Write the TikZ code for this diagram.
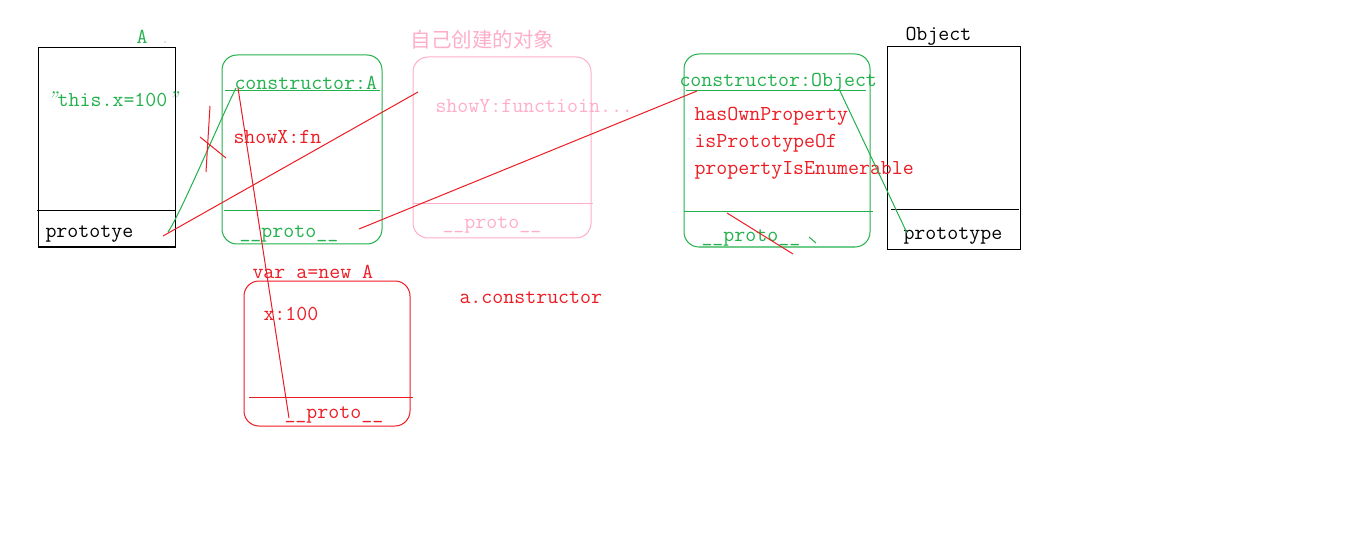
\documentclass[tikz,border=0pt]{standalone}
\usepackage{fontspec}
\newfontfamily\cjk{Noto Sans CJK SC}
\definecolor{pgreen}{RGB}{34,177,76}
\definecolor{pred}{RGB}{237,28,36}
\definecolor{ppink}{RGB}{255,174,201}
\newcommand{\qmk}{\makebox[0.525em][c]{\rmfamily\itshape ”}}
\begin{document}
\begin{tikzpicture}[x=1pt,y=-1pt,line width=1pt,
  txt/.style={font=\ttfamily\fontsize{21.3}{23}\selectfont, inner sep=0pt, anchor=base west},
  sqbox/.style={draw=black, inner sep=0pt, outer sep=0pt},
  rbox/.style={draw, rounded corners=15pt, inner sep=0pt, outer sep=0pt},
  link/.style={line width=1pt}]
\useasboundingbox (0,0) rectangle (1360,540);
\fill[white] (0,0) rectangle (1360,540);
% boxes
\node[sqbox, minimum width=137pt, minimum height=199pt] (boxA) at (106.5,147.5) {};
\node[rbox, draw=pgreen, minimum width=160pt, minimum height=189pt] (protoA) at (302,149.5) {};
\node[rbox, draw=ppink, minimum width=178pt, minimum height=181pt] (own) at (502,147.5) {};
\node[rbox, draw=pgreen, minimum width=186pt, minimum height=193pt] (protoObj) at (777,150.5) {};
\node[sqbox, minimum width=133pt, minimum height=202pt] (boxObj) at (953.5,148) {};
\node[rbox, draw=pred, minimum width=166pt, minimum height=145pt] (inst) at (327,353.5) {};
% dividers
\draw[black] (37,211) -- (175,211);
\draw[pgreen] (225,91) -- (380,91);
\draw[pgreen] (224,211) -- (380,211);
\draw[ppink] (413,204) -- (593,204);
\draw[pgreen] (686,91) -- (866,91);
\draw[pgreen] (684,212) -- (873,212);
\draw[black] (891,210) -- (1019,210);
\draw[pred] (249,397) -- (413,397);
% texts
\node[txt, text=pgreen] (tA) at (136,44) {A};
\fill[black!50] (165,42) circle (0.6);
\node[txt, text=pgreen] (tthis) at (46,107) {\qmk this.x=100\qmk};
\node[txt, text=black] (tprotoA) at (45,237) {prototye};
\node[txt, text=pgreen] (tconA) at (234,90) {constructor:A};
\node[txt, text=pred] (tshowX) at (233,144) {showX:fn};
\node[txt, text=pgreen] (tpA) at (239,237) {\_\_proto\_\_};
\node[font=\cjk\fontsize{20.5}{22}\selectfont, text=ppink, inner sep=0pt, anchor=base west] (ttitle) at (410,48) {自己创建的对象};
\node[txt, text=ppink] (tshowY) at (435,113) {showY:functioin...};
\node[txt, text=ppink] (tpOwn) at (442,229) {\_\_proto\_\_};
\node[txt, text=pgreen] (tconObj) at (679,87) {constructor:Object};
\node[txt, text=pred] (th1) at (694,121) {hasOwnProperty};
\node[txt, text=pred] (th2) at (694,148) {isPrototypeOf};
\node[txt, text=pred] (th3) at (694,175) {propertyIsEnumerable};
\node[txt, text=pgreen] (tpObj) at (701,242) {\_\_proto\_\_};
\node[txt, text=black] (tObj) at (905,41) {Object};
\node[txt, text=black] (tprotoObj) at (903,240) {prototype};
\node[txt, text=pred] (tvar) at (252,278) {var a=new A};
\node[txt, text=pred] (tx) at (263,320) {x:100};
\node[txt, text=pred] (tpInst) at (284,418) {\_\_proto\_\_};
\node[txt, text=pred] (taCon) at (459,303) {a.constructor};
% connector end points
\coordinate (pA) at (168,232);
\coordinate (cA) at (236,88);
\coordinate (cA2) at (238,88);
\coordinate (pA2) at (163,236);
\coordinate (ownIn) at (418,92);
\coordinate (instP) at (289,418);
\coordinate (pAout) at (359,229);
\coordinate (objIn) at (697,91);
\coordinate (cObj) at (840,91);
\coordinate (objProto) at (907,233);
\coordinate (s1) at (727,213);
\coordinate (s2) at (793,254);
\coordinate (k1) at (809,237);
\coordinate (k2) at (816,243);
\coordinate (x1) at (210,106);
\coordinate (x2) at (206,172);
\coordinate (x3) at (200,137);
\coordinate (x4) at (226,158);
% connectors
\draw[link, pgreen] (pA) .. controls (180,215) and (220,120) .. (cA);
\draw[link, pred] (x1) -- (x2);
\draw[link, pred] (x3) -- (x4);
\draw[link, pred] (pA2) -- (ownIn);
\draw[link, pred] (cA2) -- (instP);
\draw[link, pred] (pAout) -- (objIn);
\draw[link, pred] (s1) -- (s2);
\draw[link, pgreen] (cObj) -- (objProto);
\draw[link, pgreen] (k1) -- (k2);
\end{tikzpicture}
\end{document}
